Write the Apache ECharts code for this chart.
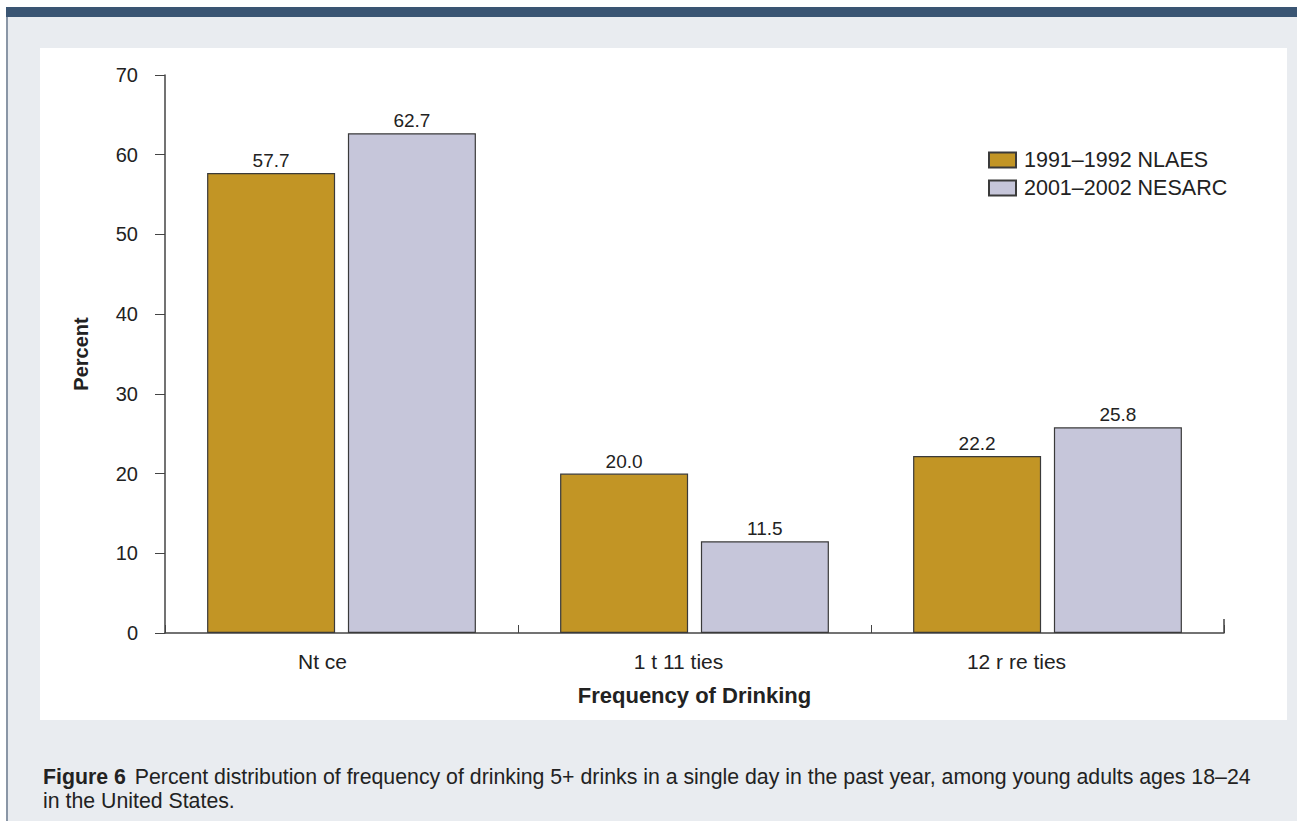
<!DOCTYPE html>
<html><head><meta charset="utf-8">
<script src="https://cdn.jsdelivr.net/npm/echarts@6/dist/echarts.min.js"></script>
<style>
html,body{margin:0;padding:0;width:1297px;height:821px;overflow:hidden;background:#fff;font-family:"Liberation Sans",Arial,sans-serif;}
#frame{position:absolute;left:6px;top:7px;width:1291px;height:814px;background:#e9ecf0;border-left:2px solid #8a96a6;box-sizing:border-box;}
#topbar{position:absolute;left:6px;top:7px;width:1291px;height:10px;background:#3a5573;}
#panel{position:absolute;left:40px;top:48px;width:1247px;height:672px;background:#fff;}
#chart{position:absolute;left:0;top:0;width:1297px;height:821px;}
#caption{position:absolute;left:43px;top:765px;width:1254px;font-size:21.3px;line-height:24px;color:#222;white-space:nowrap;}
#caption b{margin-right:3px;}
</style></head>
<body>
<div id="frame"></div>
<div id="topbar"></div>
<div id="panel"></div>
<div id="chart"></div>
<div id="caption"><b>Figure 6</b> Percent distribution of frequency of drinking 5+ drinks in a single day in the past year, among young adults ages 18–24<br>in the United States.</div>
<script>
const categories = ["Nt ce", "1 t 11 ties", "12 r re ties"];
const seriesNames = ["1991–1992 NLAES", "2001–2002 NESARC"];
const nlaes = [57.7, 20.0, 22.2];
const nesarc = [62.7, 11.5, 25.8];
const yTicks = {min: 0, max: 70, interval: 10};

const chart = echarts.init(document.getElementById('chart'), null, {renderer: 'svg'});
const lab = {show: true, position: 'top', distance: 3, color: '#222', fontSize: 19, fontFamily: 'Liberation Sans',
  formatter: p => p.value.toFixed(1)};
const labelRich = {
  c0: {fontSize: 21, color: '#222', padding: [0, 38, 0, 0]},
  c1: {fontSize: 21, color: '#222', padding: [0, 32, 0, 0]},
  c2: {fontSize: 21, color: '#222', padding: [0, 62, 0, 0]}
};
chart.setOption({
  backgroundColor: 'transparent',
  animation: false,
  textStyle: {fontFamily: 'Liberation Sans'},
  grid: {left: 165, right: 73, top: 75, bottom: 188},
  legend: {
    orient: 'vertical', left: 983, top: 144, itemWidth: 27, itemHeight: 15, itemGap: 6, icon: 'rect',
    textStyle: {fontSize: 21.5, color: '#222', padding: [0, 0, 0, 3]},
    data: seriesNames
  },
  xAxis: {
    type: 'category', data: categories,
    name: 'Frequency of Drinking', nameLocation: 'middle', nameGap: 51,
    nameTextStyle: {fontSize: 22, fontWeight: 'bold', color: '#222'},
    axisLine: {lineStyle: {color: '#444', width: 1.5}},
    axisTick: {show: true, inside: true, length: 8, lineStyle: {color: '#444'}},
    axisLabel: {color: '#222', margin: 18,
      formatter: (v, i) => '{c' + i + '|' + v + '}', rich: labelRich}
  },
  yAxis: {
    type: 'value', min: yTicks.min, max: yTicks.max, interval: yTicks.interval,
    name: 'Percent', nameLocation: 'middle', nameGap: 74, nameRotate: 90,
    nameTextStyle: {fontSize: 20, fontWeight: 'bold', color: '#222'},
    axisLine: {show: true, lineStyle: {color: '#444', width: 1.5}},
    axisTick: {show: true, length: 10, lineStyle: {color: '#444'}},
    axisLabel: {fontSize: 20, color: '#222', margin: 27},
    splitLine: {show: false}
  },
  series: [
    {name: seriesNames[0], type: 'bar', data: nlaes, barWidth: 128, barGap: '10%',
     itemStyle: {color: '#c29525', borderColor: '#3a3a3a', borderWidth: 1.2}, label: lab},
    {name: seriesNames[1], type: 'bar', data: nesarc, barWidth: 128, barGap: '10%',
     itemStyle: {color: '#c6c6da', borderColor: '#3a3a3a', borderWidth: 1.2}, label: lab}
  ]
});
// closing end tick at the right end of the category axis
const y0 = chart.convertToPixel({yAxisIndex: 0}, 0);
const xEnd = 1297 - 73;
chart.setOption({graphic: [{type: 'line', shape: {x1: xEnd, y1: y0, x2: xEnd, y2: y0 - 14},
  style: {stroke: '#444', lineWidth: 1.5}}]});
</script>
</body></html>
